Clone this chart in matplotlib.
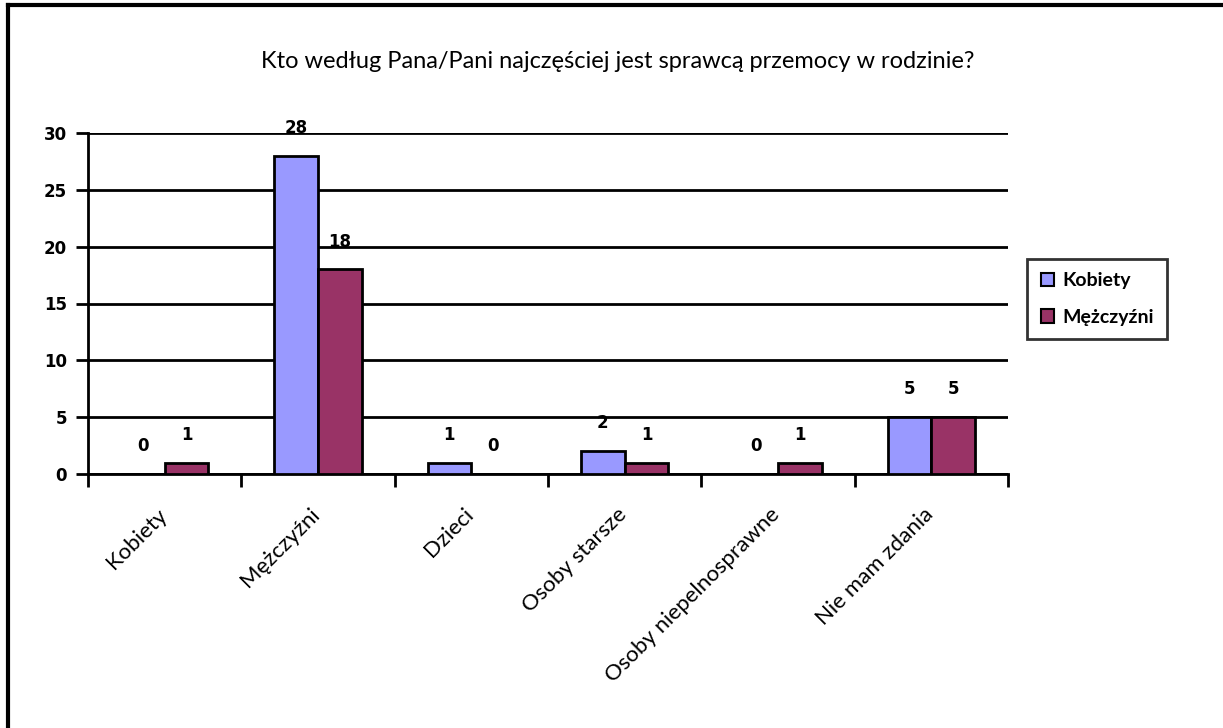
import numpy as np
import matplotlib.pyplot as plt
from matplotlib.lines import Line2D

categories = ['Kobiety', 'Mężczyźni', 'Dzieci', 'Osoby starsze',
              'Osoby niepelnosprawne', 'Nie mam zdania']
kobiety = [0, 28, 1, 2, 0, 5]
mezczyzni = [1, 18, 0, 1, 1, 5]
series_names = ['Kobiety', 'Mężczyźni']
title = 'Kto według Pana/Pani najczęściej jest sprawcą przemocy w rodzinie?'

fig = plt.figure(figsize=(12.23, 7.28), dpi=100)
W, H = 1223, 728

# plot area in pixels: x 88..1008, y 133..474
ax = fig.add_axes([88 / W, 1 - 474 / H, (1008 - 88) / W, (474 - 133) / H])

x = np.arange(len(categories))
bw = 1 / 3.5
ax.bar(x - bw / 2, kobiety, bw, color='#9999FF', edgecolor='black', linewidth=2, zorder=3)
ax.bar(x + bw / 2, mezczyzni, bw, color='#993366', edgecolor='black', linewidth=2, zorder=3)

for xi, v in zip(x, kobiety):
    ax.annotate(str(v), (xi - bw / 2, v), xytext=(0, 20), textcoords='offset points',
                ha='center', va='center', fontsize=12, fontweight='bold', family='DejaVu Sans')
for xi, v in zip(x, mezczyzni):
    ax.annotate(str(v), (xi + bw / 2, v), xytext=(0, 20), textcoords='offset points',
                ha='center', va='center', fontsize=12, fontweight='bold', family='DejaVu Sans')

ax.set_xlim(-0.5, len(categories) - 0.5)
ax.set_ylim(0, 30)
ax.set_yticks(range(0, 31, 5))
ax.yaxis.grid(True, color='black', linewidth=2, zorder=0)
ax.set_axisbelow(True)

for s in ['top', 'right']:
    ax.spines[s].set_visible(False)
for s in ['left', 'bottom']:
    ax.spines[s].set_linewidth(2)

ax.tick_params(axis='y', length=9, width=2, labelsize=12, pad=6)
for lbl in ax.get_yticklabels():
    lbl.set_fontweight('bold')
    lbl.set_family('DejaVu Sans')

# ticks at category boundaries
ax.set_xticks(np.arange(-0.5, len(categories), 1))
ax.set_xticklabels([])
ax.tick_params(axis='x', length=9, width=2, direction='out')
for xi, c in zip(x, categories):
    ax.annotate(c, (xi, 0), xytext=(-6, -22), textcoords='offset points',
                ha='right', va='top', rotation=45, rotation_mode='anchor',
                fontsize=16, family='Lato', annotation_clip=False)

fig.text(618 / W, 1 - 62 / H, title, ha='center', va='center', fontsize=17, family='Lato')

handles = [plt.Rectangle((0, 0), 1, 1, facecolor='#9999FF', edgecolor='black', linewidth=1.5),
           plt.Rectangle((0, 0), 1, 1, facecolor='#993366', edgecolor='black', linewidth=1.5)]
leg = fig.legend(handles, series_names, loc='center left',
                 bbox_to_anchor=(1027 / W, 1 - 299 / H),
                 prop={'family': 'Lato', 'weight': 'bold', 'size': 14},
                 frameon=True, fancybox=False, edgecolor='black',
                 handlelength=0.7, handleheight=0.7, handletextpad=0.4,
                 labelspacing=1.0, borderpad=0.7, borderaxespad=0)
leg.get_frame().set_linewidth(2)

# outer chart border (only top and left edges are inside the picture)
fig.add_artist(Line2D([8 / W, 8 / W], [0, 1 - 5 / H], transform=fig.transFigure, color='black', linewidth=3))
fig.add_artist(Line2D([8 / W, 1], [1 - 5 / H, 1 - 5 / H], transform=fig.transFigure, color='black', linewidth=3))

fig.savefig('out.png', dpi=100)
